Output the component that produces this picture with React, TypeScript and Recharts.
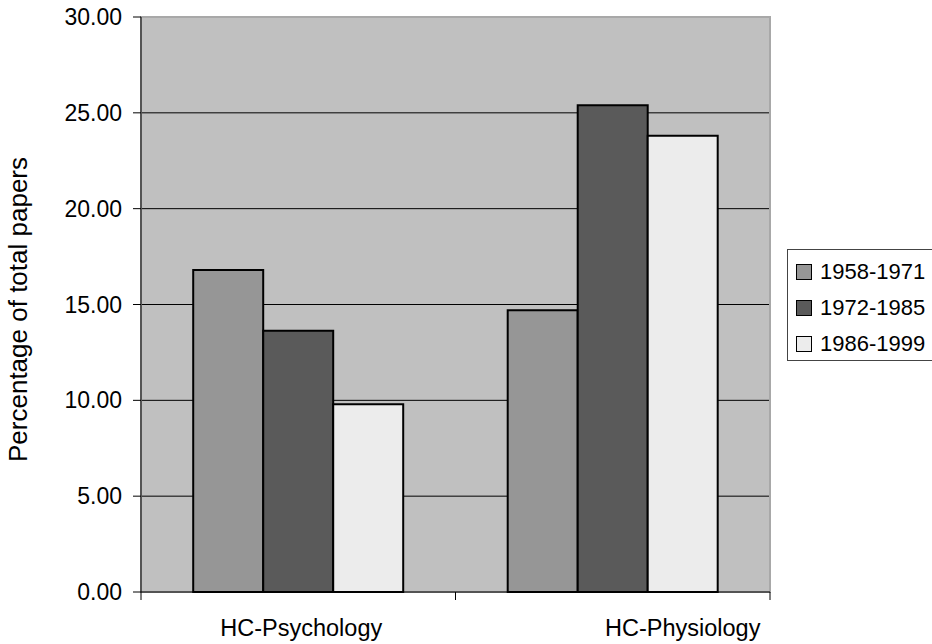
import React from 'react';
import { BarChart, Bar, XAxis, YAxis, CartesianGrid, Legend, ReferenceArea } from 'recharts';

// Share of papers per research area, by period
const categories = ['HC-Psychology', 'HC-Physiology'];
const periods = ['1958-1971', '1972-1985', '1986-1999'];
const values1958to1971 = [16.8, 14.7];
const values1972to1985 = [13.63, 25.4];
const values1986to1999 = [9.79, 23.8];
const yTicks = [0, 5, 10, 15, 20, 25, 30];

const seriesValues = [values1958to1971, values1972to1985, values1986to1999];
const periodFills = ['#969696', '#5a5a5a', '#ececec'];

const data = categories.map((category, i) => {
  const row: Record<string, string | number> = { category };
  periods.forEach((p, s) => {
    row[p] = seriesValues[s][i];
  });
  return row;
});

const FONT = '"Liberation Sans", Arial, sans-serif';

// small horizontal nudges applied to the category captions
const captionNudge = [3, 70];

const CategoryTick = (props: any) => {
  const { x, y, payload, index, width, visibleTicksCount } = props;
  const half =
    payload && typeof payload.offset === 'number' && payload.offset > 0
      ? payload.offset
      : width / (2 * (visibleTicksCount || categories.length));
  return (
    <g>
      <line x1={x - half} x2={x - half} y1={y} y2={y + 8} stroke="#000" strokeWidth={1} />
      <line x1={x + half} x2={x + half} y1={y} y2={y + 8} stroke="#000" strokeWidth={1} />
      <text
        x={x + (captionNudge[index] || 0)}
        y={y + 27}
        dy="0.71em"
        textAnchor="middle"
        fontSize={23.5}
        fontFamily={FONT}
        fill="#000"
      >
        {payload.value}
      </text>
    </g>
  );
};

const renderYTitle = (props: any) => {
  const vb = props.viewBox || { x: 0, y: 17, width: 141, height: 575 };
  const cy = vb.y + vb.height / 2 + 5;
  const bx = 27;
  return (
    <text
      x={bx}
      y={cy}
      transform={`rotate(-90 ${bx} ${cy})`}
      textAnchor="middle"
      fontSize={26}
      fontFamily={FONT}
      fill="#000"
    >
      Percentage of total papers
    </text>
  );
};

const LegendBox = () => (
  <div
    style={{
      boxSizing: 'border-box',
      width: 160,
      height: 112,
      border: '1px solid #444',
      background: '#fff',
      paddingTop: 4,
      fontFamily: FONT,
    }}
  >
    {periods.map((p, i) => (
      <div key={p} style={{ display: 'flex', alignItems: 'center', height: 36 }}>
        <div
          style={{
            boxSizing: 'border-box',
            width: 16,
            height: 16,
            marginLeft: 8,
            border: '1px solid #000',
            background: periodFills[i],
          }}
        />
        <span style={{ marginLeft: 8, fontSize: 22, lineHeight: 1, color: '#000' }}>{p}</span>
      </div>
    ))}
  </div>
);

export default function App() {
  return (
    <div
      style={{
        position: 'fixed',
        left: 0,
        top: 0,
        width: 932,
        height: 644,
        overflow: 'hidden',
        background: '#fff',
      }}
    >
      <BarChart
        width={932}
        height={644}
        data={data}
        margin={{ top: 17, right: 162, bottom: 0, left: 0 }}
        barCategoryGap="16.6%"
        barGap={0}
      >
        <CartesianGrid vertical={false} stroke="#000" strokeWidth={1} fill="#c0c0c0" fillOpacity={1} />
        <ReferenceArea y1={0} y2={30} fill="none" stroke="#a8a8a8" strokeWidth={2} ifOverflow="visible" />
        <XAxis
          dataKey="category"
          height={52}
          tickLine={false}
          tickSize={0}
          tickMargin={0}
          axisLine={{ stroke: '#000', strokeWidth: 1 }}
          tick={<CategoryTick />}
          interval={0}
        />
        <YAxis
          type="number"
          domain={[0, 30]}
          ticks={yTicks}
          interval={0}
          width={141}
          tickSize={8}
          tickMargin={11}
          tickFormatter={(v: number) => v.toFixed(2)}
          tick={{ fill: '#000', fontSize: 23, fontFamily: FONT }}
          tickLine={{ stroke: '#000', strokeWidth: 1 }}
          axisLine={{ stroke: '#000', strokeWidth: 1 }}
          label={renderYTitle}
        />
        {periods.map((p, i) => (
          <Bar
            key={p}
            dataKey={p}
            fill={periodFills[i]}
            stroke="#000"
            strokeWidth={2}
            isAnimationActive={false}
          />
        ))}
        <Legend
          layout="horizontal"
          align="center"
          verticalAlign="middle"
          wrapperStyle={{ left: 787, top: 249, width: 160, height: 112 }}
          content={() => <LegendBox />}
        />
      </BarChart>
    </div>
  );
}
